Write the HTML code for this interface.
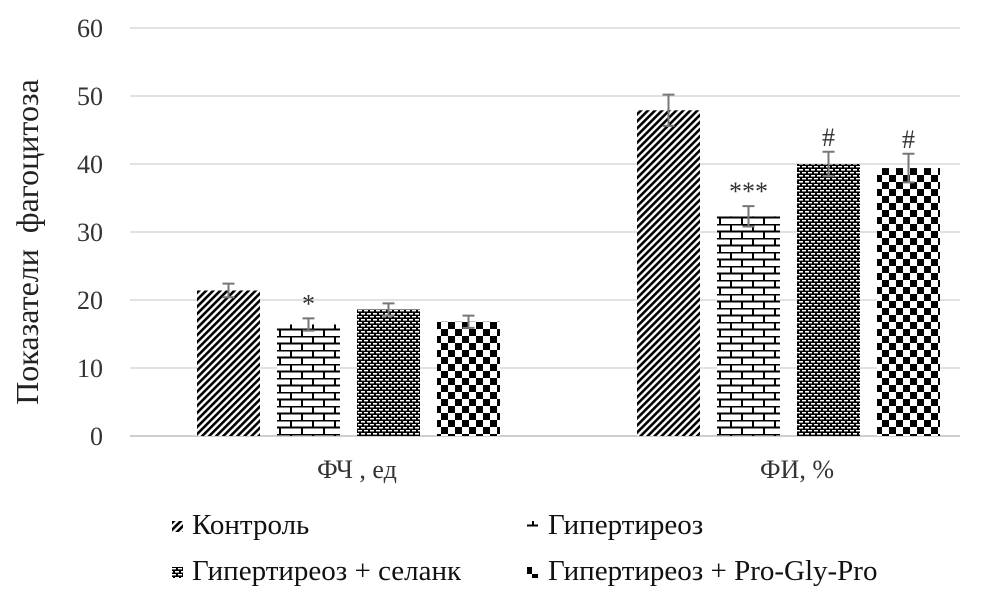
<!DOCTYPE html>
<html><head><meta charset="utf-8"><style>
body{margin:0;background:#fff}
svg{display:block;font-family:"Liberation Serif","Noto Serif CJK SC",serif}
</style></head><body>
<svg id="chart" width="981" height="604">
<defs>
<pattern id="p0" width="5" height="5" patternUnits="userSpaceOnUse" patternTransform="rotate(45)"><rect width="5" height="5" fill="#fff"/><rect width="2.6" height="5" fill="#000"/></pattern>
<pattern id="p1" width="22" height="14" patternUnits="userSpaceOnUse"><rect width="22" height="14" fill="#fff"/><path d="M0 0.5H22M0 7.5H22M5 0V7M16 7V14" stroke="#000" stroke-width="2" fill="none"/></pattern>
<pattern id="p2" width="6" height="6" patternUnits="userSpaceOnUse"><rect width="6" height="6" fill="#000"/><rect x="1" y="1" width="4" height="1.6" fill="#fff"/><rect x="-2" y="4" width="4" height="1.4" fill="#fff"/><rect x="4" y="4" width="4" height="1.4" fill="#fff"/></pattern>
<pattern id="p3" width="14" height="14" patternUnits="userSpaceOnUse"><rect width="14" height="14" fill="#fff"/><rect width="7" height="7" fill="#000"/><rect x="7" y="7" width="7" height="7" fill="#000"/></pattern>
</defs>
<g id="grid"></g><g id="bars"></g><g id="labels"></g>
<text x="0" y="0" transform="translate(38,242) rotate(-90)" text-anchor="middle" font-size="32" fill="#222" xml:space="preserve">Показатели  фагоцитоза</text>
<g font-size="29" fill="#111">
<rect x="172" y="521" width="11" height="11" fill="url(#p0)"/>
<text x="192" y="534">Контроль</text>
<rect x="527" y="521" width="11" height="11" fill="url(#p1)"/>
<text x="548" y="534">Гипертиреоз</text>
<rect x="172" y="567" width="11" height="11" fill="url(#p2)"/>
<text x="192" y="580">Гипертиреоз + селанк</text>
<rect x="527" y="567" width="11" height="11" fill="url(#p3)"/>
<text x="548" y="580">Гипертиреоз + Pro-Gly-Pro</text>
</g>
</svg>
<script>
const categories=["ФЧ , ед","ФИ, %"];
const ticks=[0,10,20,30,40,50,60];
const s0=[21.4,47.9];
const s1=[16.4,32.3];
const s2=[18.6,40.0];
const s3=[16.8,39.4];
const e0=[1.0,2.3];
const e1=[0.9,1.5];
const e2=[0.9,1.8];
const e3=[0.9,2.1];
const marks=[["","*","",""],["","***","#","#"]];
const series=[s0,s1,s2,s3], errs=[e0,e1,e2,e3];
const NS="http://www.w3.org/2000/svg";
const y=v=>436-v*6.8;
const groupX=i=>197+i*440;
function mk(t,a,p){const e=document.createElementNS(NS,t);for(const k in a)e.setAttribute(k,a[k]);p.appendChild(e);return e;}
const grid=document.getElementById('grid'),bars=document.getElementById('bars'),labels=document.getElementById('labels');
ticks.forEach(t=>{
 const l=mk('line',{x1:130,x2:960,y1:y(t),y2:y(t),stroke:t===0?'#bfbfbf':'#d9d9d9','stroke-width':1.5},grid);
 
 
 const tx=mk('text',{x:103,y:y(t)+9,'text-anchor':'end','font-size':26,fill:'#333'},labels);
 tx.textContent=t;
 
 
});
categories.forEach((c,i)=>{
 const tx=mk('text',{x:groupX(i)+160,y:478,'text-anchor':'middle','font-size':26,fill:'#333'},labels);
 tx.textContent=c;
 
 
 series.forEach((s,j)=>{
  const x=groupX(i)+j*80, v=s[i], er=errs[j][i];
  const r=mk('rect',{x:x,y:y(v),width:63,height:y(0)-y(v),fill:'url(#p'+j+')'},bars);
  
  
  const cx=x+31.5;
  const g=mk('path',{d:`M${cx} ${y(v+er)}V${y(v-er)}M${cx-6} ${y(v+er)}H${cx+6}M${cx-6} ${y(v-er)}H${cx+6}`,stroke:'#777','stroke-width':2,fill:'none'},bars);
  
  
  const m=marks[i][j];
  if(m){const t=mk('text',{x:cx,y:y(v+er)-6,'text-anchor':'middle','font-size':26,fill:'#333'},labels);
   t.textContent=m;
   
   }
 });
});
</script>
</body></html>
